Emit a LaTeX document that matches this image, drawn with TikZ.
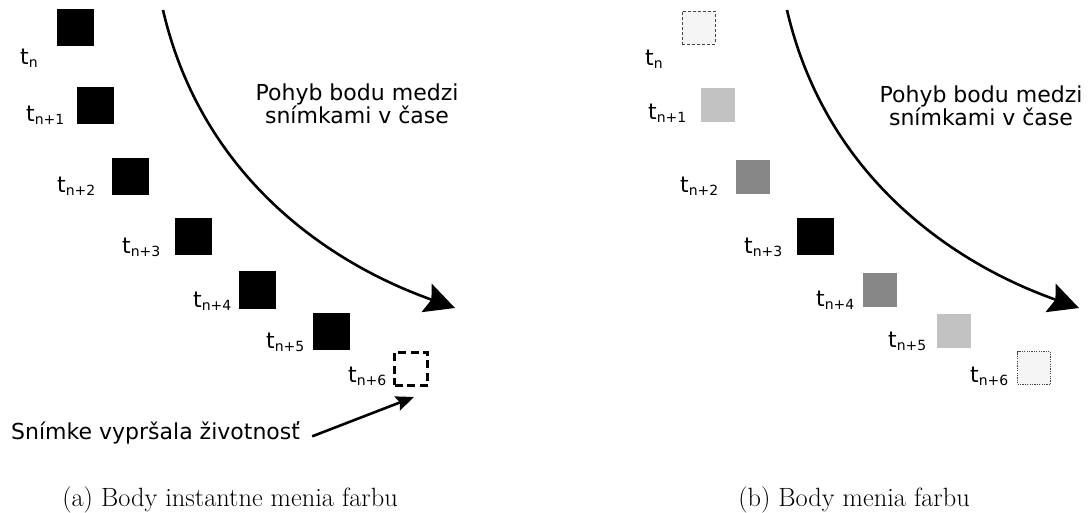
\documentclass[tikz,border=0pt]{standalone}
\usepackage{fontspec}
\newfontfamily\dv{DejaVu Sans}
\usetikzlibrary{arrows.meta}
\definecolor{pale}{HTML}{F5F5F5}
\definecolor{lgrey}{HTML}{C2C2C2}
\definecolor{mgrey}{HTML}{878787}
\definecolor{edge}{HTML}{444444}
\newcommand\tlab[1]{t\raisebox{-3pt}{\fontsize{14}{14}\selectfont #1}}
\begin{document}
\begin{tikzpicture}[x=1pt,y=-1pt,
  sq/.style={rectangle, inner sep=0pt, outer sep=0pt, minimum size=#1},
  sq/.default=34pt,
  blk/.style={sq=37pt, fill=black},
  lab/.style={anchor=base west, inner sep=0pt, font=\dv\fontsize{22}{26}\selectfont},
  motion/.style={line width=2.6pt, -{Stealth[length=30pt,width=30pt,inset=5pt]}},
  pointer/.style={line width=2.6pt, -{Stealth[length=18pt,width=15pt,inset=3pt]}},
  note/.style={inner sep=0pt, align=center, font=\dv\fontsize{22}{23}\selectfont},
  capt/.style={anchor=base, inner sep=0pt, font=\fontsize{26.4}{30}\selectfont}
]
\useasboundingbox (0,0) rectangle (1090,513);

% ---------- panel (a) ----------
\node[blk] (a0) at (75.5,27.5) {};
\node[blk] (a1) at (95.5,105.5) {};
\node[blk] (a2) at (130.5,176.5) {};
\node[blk] (a3) at (193,237) {};
\node[blk] (a4) at (257.5,290) {};
\node[blk] (a5) at (331.5,331) {};
\node[sq=33pt, draw=black, line width=3pt, dash pattern=on 8pt off 4.5pt] (a6) at (411,368.5) {};

\node[lab] (la0) at (20,65) {\tlab{n}};
\node[lab] (la1) at (26,122) {\tlab{n+1}};
\node[lab] (la2) at (57,193) {\tlab{n+2}};
\node[lab] (la3) at (122,254) {\tlab{n+3}};
\node[lab] (la4) at (193,307) {\tlab{n+4}};
\node[lab] (la5) at (266,348) {\tlab{n+5}};
\node[lab] (la6) at (348,382) {\tlab{n+6}};

\coordinate (as) at (163,10);
\coordinate (ae) at (455,308);
\draw[motion] (as) .. controls (200,170) and (320,260) .. (ae);
\node[note] (ta) at (357,104) {Pohyb bodu medzi\\snímkami v čase};

\node[lab, inner xsep=12pt] (snimke) at (-1,439) {Snímke vypršala životnosť};
\coordinate (exp) at ([xshift=3pt,yshift=-12pt]a6.south);
\draw[pointer] ([yshift=-4pt]snimke.east) -- (exp);

\node[capt] (capa) at (230,506) {(a) Body instantne menia farbu};

% ---------- panel (b) ----------
\node[sq=33pt, fill=pale, draw=edge, line width=0.8pt, dash pattern=on 3pt off 2pt] (b0) at (698.5,28) {};
\node[sq, fill=lgrey] (b1) at (718,105) {};
\node[sq, fill=mgrey] (b2) at (753,177) {};
\node[blk] (b3) at (815.5,237) {};
\node[sq, fill=mgrey] (b4) at (880,290) {};
\node[sq, fill=lgrey] (b5) at (954,331) {};
\node[sq=33pt, fill=pale, draw=edge, line width=0.8pt, dash pattern=on 1.2pt off 1.2pt] (b6) at (1034,368) {};

\node[lab] (lb0) at (645,66) {\tlab{n}};
\node[lab] (lb1) at (648,120) {\tlab{n+1}};
\node[lab] (lb2) at (680,193) {\tlab{n+2}};
\node[lab] (lb3) at (744,254) {\tlab{n+3}};
\node[lab] (lb4) at (816,306) {\tlab{n+4}};
\node[lab] (lb5) at (888,347) {\tlab{n+5}};
\node[lab] (lb6) at (970,382) {\tlab{n+6}};

\coordinate (bs) at (787,10);
\coordinate (be) at (1079,308);
\draw[motion] (bs) .. controls (824,170) and (944,260) .. (be);
\node[note] (tb) at (981,106) {Pohyb bodu medzi\\snímkami v čase};

\node[capt] (capb) at (854,506) {(b) Body menia farbu};
\end{tikzpicture}
\end{document}
